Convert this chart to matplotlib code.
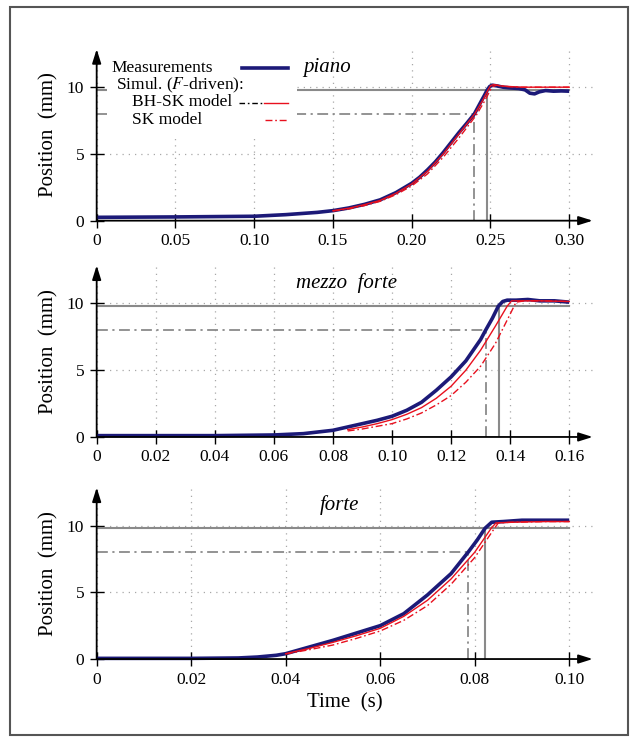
import matplotlib
matplotlib.use("Agg")
import matplotlib.pyplot as plt
from matplotlib.patches import Rectangle

plt.rcParams['font.family'] = ['Liberation Serif', 'DejaVu Serif']
plt.rcParams['mathtext.fontset'] = 'stix'

# ---- piano ----
t_meas_p = [0.000, 0.050, 0.100, 0.120, 0.140, 0.150, 0.160, 0.170, 0.180, 0.190, 0.200, 0.205,
            0.210, 0.215, 0.220, 0.225, 0.230, 0.235, 0.2398, 0.243, 0.246, 0.248, 0.2495, 0.251,
            0.254, 0.258, 0.262, 0.268, 0.272, 0.275, 0.278, 0.281, 0.285, 0.290, 0.295, 0.300]
x_meas_p = [0.25, 0.28, 0.33, 0.45, 0.62, 0.75, 0.95, 1.22, 1.56, 2.10, 2.80, 3.25,
            3.80, 4.40, 5.10, 5.85, 6.60, 7.30, 8.00, 8.70, 9.35, 9.80, 10.05, 10.15,
            10.10, 10.00, 9.95, 9.90, 9.80, 9.55, 9.50, 9.65, 9.75, 9.70, 9.72, 9.70]
t_bhsk_p = [0.150, 0.160, 0.170, 0.180, 0.190, 0.200, 0.210, 0.220, 0.230, 0.240, 0.245,
            0.2485, 0.250, 0.252, 0.256, 0.262, 0.270, 0.280, 0.300]
x_bhsk_p = [0.75, 0.93, 1.20, 1.52, 2.05, 2.75, 3.70, 5.00, 6.50, 8.00, 9.00,
            9.80, 10.10, 10.20, 10.10, 10.05, 10.00, 10.00, 10.00]
t_sk_p = [0.150, 0.160, 0.170, 0.180, 0.190, 0.200, 0.210, 0.220, 0.230, 0.241, 0.246,
          0.250, 0.2515, 0.254, 0.260, 0.270, 0.300]
x_sk_p = [0.72, 0.88, 1.13, 1.45, 1.95, 2.60, 3.50, 4.75, 6.20, 7.90, 8.90,
          9.80, 10.05, 10.15, 10.05, 10.00, 10.00]

# ---- mezzo forte ----
t_meas_m = [0.000, 0.040, 0.060, 0.070, 0.080, 0.085, 0.090, 0.095, 0.100, 0.105, 0.110, 0.115,
            0.120, 0.125, 0.130, 0.1317, 0.134, 0.136, 0.1375, 0.139, 0.142, 0.146, 0.150, 0.155, 0.160]
x_meas_m = [0.10, 0.10, 0.15, 0.25, 0.50, 0.75, 1.00, 1.25, 1.55, 2.00, 2.60, 3.50,
            4.50, 5.70, 7.30, 8.00, 8.90, 9.80, 10.15, 10.25, 10.25, 10.30, 10.20, 10.20, 10.10]
t_bhsk_m = [0.085, 0.090, 0.095, 0.100, 0.105, 0.110, 0.115, 0.120, 0.125, 0.130, 0.135,
            0.139, 0.1405, 0.145, 0.150, 0.160]
x_bhsk_m = [0.55, 0.75, 1.00, 1.30, 1.70, 2.20, 2.90, 3.80, 5.00, 6.50, 8.30,
            9.80, 10.20, 10.20, 10.20, 10.15]
t_sk_m = [0.085, 0.090, 0.095, 0.100, 0.105, 0.110, 0.115, 0.120, 0.125, 0.130, 0.135,
          0.140, 0.142, 0.145, 0.150, 0.160]
x_sk_m = [0.45, 0.60, 0.80, 1.00, 1.35, 1.80, 2.40, 3.10, 4.10, 5.30, 7.00,
          9.20, 10.10, 10.20, 10.20, 10.15]

# ---- forte ----
t_meas_f = [0.000, 0.020, 0.030, 0.034, 0.038, 0.040, 0.045, 0.050, 0.055, 0.060, 0.065, 0.070,
            0.075, 0.0786, 0.0805, 0.0822, 0.0836, 0.086, 0.090, 0.095, 0.100]
x_meas_f = [0.05, 0.05, 0.08, 0.15, 0.28, 0.40, 0.90, 1.40, 1.95, 2.50, 3.40, 4.80,
            6.40, 8.00, 8.90, 9.80, 10.25, 10.30, 10.40, 10.40, 10.40]
t_bhsk_f = [0.040, 0.045, 0.050, 0.055, 0.060, 0.065, 0.070, 0.075, 0.080, 0.0835, 0.0845,
            0.088, 0.095, 0.100]
x_bhsk_f = [0.40, 0.80, 1.25, 1.75, 2.30, 3.20, 4.40, 6.00, 8.00, 9.80, 10.20,
            10.25, 10.30, 10.30]
t_sk_f = [0.040, 0.045, 0.050, 0.055, 0.060, 0.065, 0.070, 0.075, 0.080, 0.084, 0.085,
          0.088, 0.095, 0.100]
x_sk_f = [0.38, 0.70, 1.05, 1.55, 2.10, 2.90, 4.00, 5.60, 7.60, 9.70, 10.20,
          10.25, 10.30, 10.30]

# reference levels (mm) and crossing times (s)
level_hi = 9.8
level_lo = 8.0
t_hi = [0.248, 0.1362, 0.0822]
t_lo = [0.2398, 0.1317, 0.0786]

titles = ['piano', 'mezzo  forte', 'forte']
t_end = [0.30, 0.16, 0.10]
xticks_p = [0, 0.05, 0.10, 0.15, 0.20, 0.25, 0.30]
xlabels_p = ['0', '0.05', '0.10', '0.15', '0.20', '0.25', '0.30']
xticks_m = [0, 0.02, 0.04, 0.06, 0.08, 0.10, 0.12, 0.14, 0.16]
xlabels_m = ['0', '0.02', '0.04', '0.06', '0.08', '0.10', '0.12', '0.14', '0.16']
xticks_f = [0, 0.02, 0.04, 0.06, 0.08, 0.10]
xlabels_f = ['0', '0.02', '0.04', '0.06', '0.08', '0.10']
yticks = [0, 5, 10]

navy = '#1c1a78'
red = '#e8101e'
grey = '#8a8a8a'

fig = plt.figure(figsize=(6.36, 7.38), dpi=100)
fig.patches.append(Rectangle((0.0157, 0.004), 0.972, 0.9865, transform=fig.transFigure,
                             fill=False, edgecolor='#555555', lw=1.5))

panels = [
    (t_meas_p, x_meas_p, t_bhsk_p, x_bhsk_p, t_sk_p, x_sk_p, xticks_p, xlabels_p, 0.7010),
    (t_meas_m, x_meas_m, t_bhsk_m, x_bhsk_m, t_sk_m, x_sk_m, xticks_m, xlabels_m, 0.4079),
    (t_meas_f, x_meas_f, t_bhsk_f, x_bhsk_f, t_sk_f, x_sk_f, xticks_f, xlabels_f, 0.1070),
]
title_x = [0.416, 0.503, 0.49]

ylim_top = 12.85
for i, (tm, xm, tb, xb, ts, xs, xt, xl, bottom) in enumerate(panels):
    ax = fig.add_axes([0.1520, bottom, 0.7799, 0.2324])
    ax.set_xlim(0, t_end[i] * 1.0497)
    ax.set_ylim(0, ylim_top)
    for s in ax.spines.values():
        s.set_visible(False)

    ax.set_xticks(xt)
    ax.set_xticklabels(xl)
    ax.set_yticks(yticks)
    ax.tick_params(direction='inout', length=10, width=1, labelsize=12.5, pad=4)
    ax.grid(True, linestyle=(0, (1, 4)), color='#a8a8a8', lw=0.9)

    # reference lines
    ax.plot([0, t_end[i]], [level_hi, level_hi], color=grey, lw=1.5, zorder=2)
    ax.plot([t_hi[i], t_hi[i]], [0, level_hi], color=grey, lw=1.5, zorder=2)
    ax.plot([0, t_lo[i]], [level_lo, level_lo], color=grey, lw=1.3,
            linestyle=(0, (6, 2.5, 1.2, 2.5)), zorder=2)
    ax.plot([t_lo[i], t_lo[i]], [0, level_lo], color=grey, lw=1.3,
            linestyle=(0, (6, 2.5, 1.2, 2.5)), zorder=2)

    ax.plot(tm, xm, color=navy, lw=2.6, solid_capstyle='butt', zorder=3, clip_on=False)
    ax.plot(tb, xb, color=red, lw=1.0, zorder=4, clip_on=False)
    ax.plot(ts, xs, color=red, lw=1.0, linestyle=(0, (5, 2, 1.2, 2)), zorder=4, clip_on=False)

    # axis arrows
    for xy in [(1, 0), (0, 1)]:
        ax.annotate('', xy=xy, xytext=(0, 0), xycoords='axes fraction',
                    arrowprops=dict(arrowstyle='-|>,head_length=0.7,head_width=0.22',
                                    color='k', lw=1.3, shrinkA=0, shrinkB=0,
                                    mutation_scale=12),
                    annotation_clip=False, zorder=6)

    ax.set_ylabel('Position  (mm)', fontsize=15, labelpad=6)
    ax.text(title_x[i], 0.895, titles[i], transform=ax.transAxes, fontsize=15,
            style='italic', ha='left' if i == 0 else 'center', va='center', zorder=7)

    if i == 0:
        # legend drawn by hand (labels left aligned, keys on the right)
        ax.add_patch(Rectangle((0.0208, 0.504), 0.383, 0.5, transform=ax.transAxes,
                               facecolor='white', edgecolor='none', zorder=5))
        fs = 12.5
        ax.text(0.0302, 0.893, 'Measurements', transform=ax.transAxes, fontsize=fs,
                va='center', zorder=7)
        ax.text(0.0383, 0.786, 'Simul. ($F$-driven):', transform=ax.transAxes, fontsize=fs,
                va='center', zorder=7)
        ax.text(0.0706, 0.690, 'BH-SK model', transform=ax.transAxes, fontsize=fs,
                va='center', zorder=7)
        ax.text(0.0706, 0.586, 'SK model', transform=ax.transAxes, fontsize=fs,
                va='center', zorder=7)
        ax.plot([0.2923, 0.3857], [0.893, 0.893], transform=ax.transAxes, color=navy,
                lw=2.6, zorder=7)
        ax.plot([0.2869, 0.3353], [0.687, 0.687], transform=ax.transAxes, color='k',
                lw=1.0, linestyle=(0, (4, 2, 1.2, 2)), zorder=7)
        ax.plot([0.3373, 0.3857], [0.687, 0.687], transform=ax.transAxes, color=red,
                lw=1.0, zorder=7)
        ax.plot([0.3393, 0.3857], [0.586, 0.586], transform=ax.transAxes, color=red,
                lw=1.0, linestyle=(0, (5, 2, 1.2, 2)), zorder=7)

    if i == 2:
        ax.set_xlabel('Time  (s)', fontsize=15, labelpad=4)

fig.savefig('out.png', dpi=100)
